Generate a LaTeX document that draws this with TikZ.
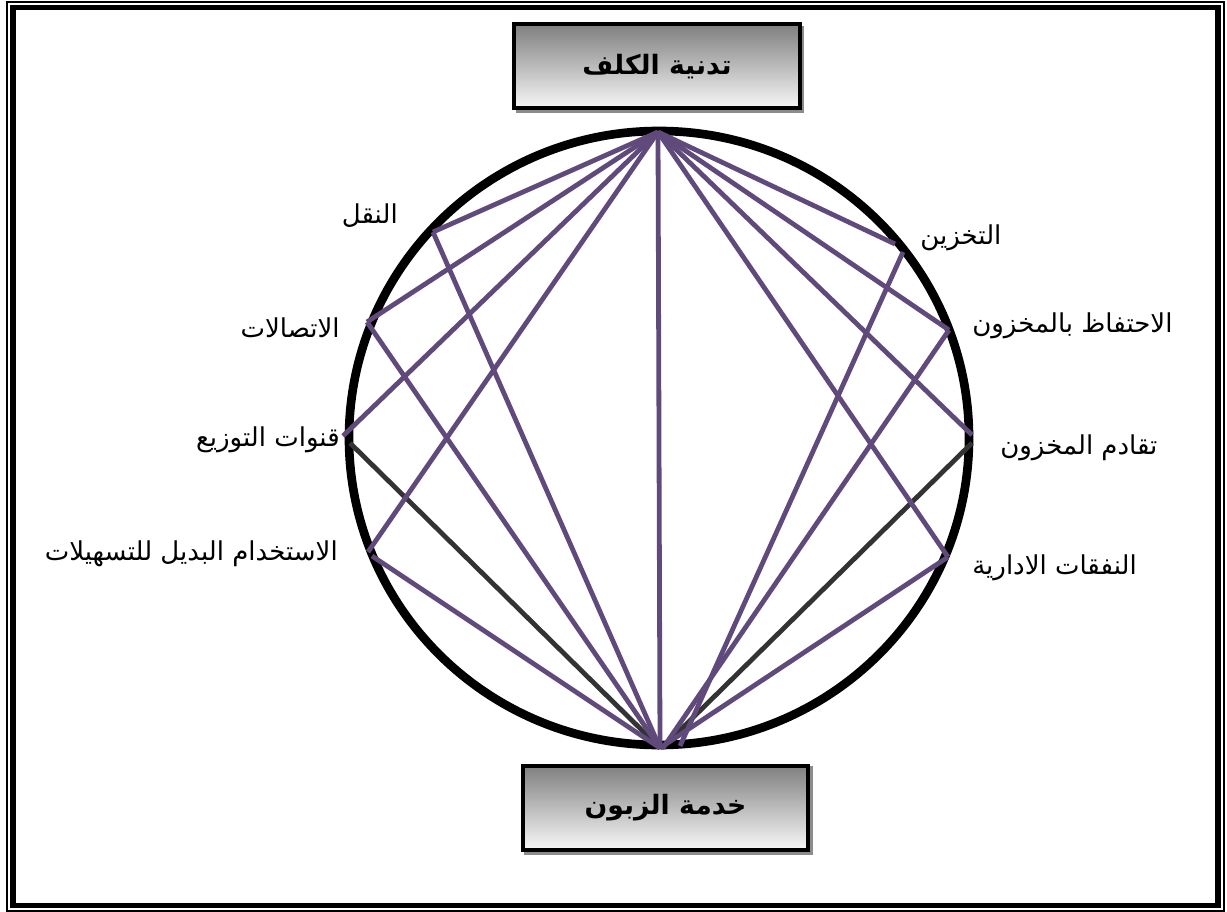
\documentclass[tikz,border=0pt]{standalone}
\usepackage{fontspec}
\newfontfamily\arabicfont[Script=Arabic]{DejaVu Sans}
\TeXXeTstate=1
\definecolor{plum}{HTML}{604A7B}
\definecolor{darkln}{HTML}{333333}
\tikzset{
  plumline/.style={draw=plum, line width=3.6pt},
  darkline/.style={draw=darkln, line width=3.6pt},
  headbox/.style={draw=black, line width=3pt, top color=black!50, bottom color=black!3, minimum width=214pt, minimum height=63pt, inner sep=0pt, font=\arabicfont\bfseries\fontsize{20}{24}\selectfont},
  lbl/.style={font=\arabicfont\fontsize{19.5}{23}\selectfont, inner sep=0pt}
}
\begin{document}
\begin{tikzpicture}[x=0.75pt,y=-0.75pt]
\useasboundingbox (0,0) rectangle (1227,912);
% frame
\draw[line width=1.5pt] (6.5,2.5) rectangle (1224,910.5);
\draw[line width=4pt] (13,7.5) rectangle (1218,905.5);
% circle
\draw[line width=6.5pt] (659,438) ellipse [x radius=310, y radius=307];
% points
\coordinate (T) at (658,132);
\coordinate (B) at (660,748);
\coordinate (B2) at (680,746);
\coordinate (naql) at (433,232);
\coordinate (itt) at (367,322);
\coordinate (qanA) at (343,436);
\coordinate (qanB) at (350,443);
\coordinate (istA) at (368,552);
\coordinate (istB) at (372,556);
\coordinate (takA) at (895,244);
\coordinate (takB) at (903,252);
\coordinate (iht) at (949,330);
\coordinate (taqA) at (972,435);
\coordinate (taqB) at (972,443);
\coordinate (naf) at (948,557);
% lines to bottom
\draw[darkline] (qanB) -- (B);
\draw[darkline] (taqB) -- (662,748);
\draw[plumline] (naql) -- (B);
\draw[plumline] (itt) -- (B);
\draw[plumline] (istB) -- (B);
\draw[plumline] (takB) -- (B2);
\draw[plumline] (iht) -- (663,748);
\draw[plumline] (naf) -- (B);
% lines from top
\draw[plumline] (T) -- (naql);
\draw[plumline] (T) -- (itt);
\draw[plumline] (T) -- (qanA);
\draw[plumline] (T) -- (istA);
\draw[plumline] (T) -- (takA);
\draw[plumline] (T) -- (iht);
\draw[plumline] (T) -- (taqA);
\draw[plumline] (T) -- (naf);
\draw[plumline] (T) -- (B);
% boxes
\fill[black!45] (516,26) rectangle (804,113);
\node[headbox] (cost) at (657,66.5) {\beginR تدنية الكلف\endR};
\fill[black!45] (524,766) rectangle (813,855);
\node[headbox] (cust) at (665.5,807.5) {\beginR خدمة الزبون\endR};
% labels
\node[lbl, anchor=east] (l1) at (398,216) {\beginR النقل\endR};
\node[lbl, anchor=east] (l2) at (340,328) {\beginR الاتصالات\endR};
\node[lbl, anchor=east] (l3) at (340,440) {\beginR قنوات التوزيع\endR};
\node[lbl, anchor=east] (l4) at (338,554) {\beginR الاستخدام البديل للتسهيلات\endR};
\node[lbl, anchor=west] (r1) at (920,238) {\beginR التخزين\endR};
\node[lbl, anchor=west] (r2) at (972,326) {\beginR الاحتفاظ بالمخزون\endR};
\node[lbl, anchor=west] (r3) at (1000,448) {\beginR تقادم المخزون\endR};
\node[lbl, anchor=west] (r4) at (972,568) {\beginR النفقات الادارية\endR};
\end{tikzpicture}
\end{document}
